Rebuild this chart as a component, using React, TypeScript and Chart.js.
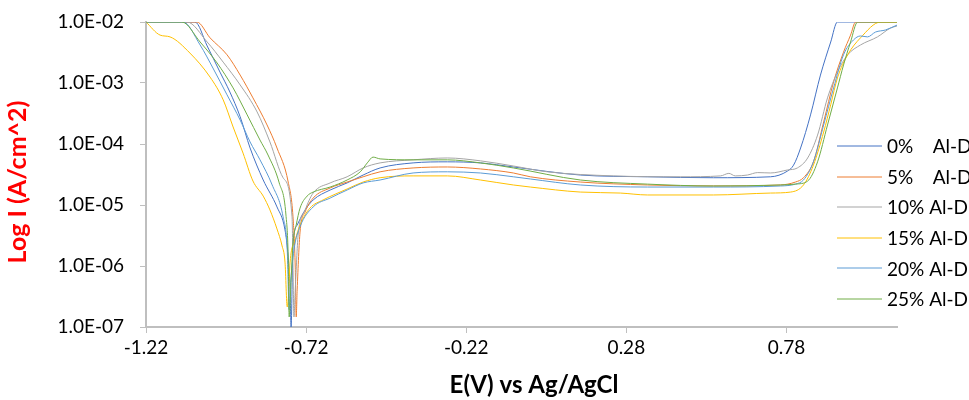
import React, { useEffect, useRef } from 'react';
import { Chart, registerables } from 'chart.js';

Chart.register(...registerables);

const seriesLabels = ['0%    Al-Dross', '5%    Al-Dross', '10% Al-Dross', '15% Al-Dross', '20% Al-Dross', '25% Al-Dross'];
const seriesColors = ['#4472C4', '#ED7D31', '#A5A5A5', '#FFC000', '#5B9BD5', '#70AD47'];

// 0% Al-D
const e0 = [-1.22, -1.067, -1.029, -0.989, -0.958, -0.926, -0.895, -0.854, -0.811, -0.786, -0.776, -0.77, -0.767, -0.761, -0.748, -0.723, -0.698, -0.645, -0.592, -0.542, -0.489, -0.386, -0.279, -0.176, -0.073, 0.136, 0.346, 0.552, 0.73, 0.783, 0.802, 0.824, 0.855, 0.886, 0.918, 0.939, 1.125];
const i0 = [1e-2, 1e-2, 4.05e-3, 1.51e-3, 7.1e-4, 2.8e-4, 8.6e-5, 2.57e-5, 9.3e-6, 3.9e-6, 1.4e-6, 4.05e-7, 1e-7, 2.2e-6, 4.7e-6, 8.3e-6, 1.21e-5, 1.76e-5, 2.3e-5, 3.1e-5, 4.05e-5, 4.9e-5, 5.1e-5, 4.9e-5, 4.2e-5, 3.1e-5, 2.9e-5, 2.8e-5, 2.9e-5, 3.6e-5, 4.5e-5, 8.6e-5, 3.0e-4, 1.35e-3, 4.7e-3, 1e-2, 1e-2];

// 5% Al-D
const e5 = [-1.22, -1.061, -1.02, -0.967, -0.926, -0.886, -0.842, -0.811, -0.776, -0.761, -0.754, -0.751, -0.748, -0.739, -0.723, -0.698, -0.645, -0.592, -0.542, -0.489, -0.386, -0.279, -0.176, -0.073, -0.02, 0.136, 0.346, 0.552, 0.761, 0.808, 0.833, 0.864, 0.896, 0.927, 0.958, 0.98, 0.996, 1.125];
const i5 = [1e-2, 1e-2, 5.5e-3, 2.9e-3, 1.35e-3, 5.7e-4, 2.05e-4, 8.6e-5, 2.38e-5, 6.4e-6, 9.6e-7, 1.46e-7, 4.05e-7, 3.6e-6, 7.7e-6, 1.3e-5, 1.9e-5, 2.38e-5, 2.9e-5, 3.5e-5, 4.05e-5, 4.2e-5, 3.9e-5, 3.35e-5, 2.9e-5, 2.38e-5, 2.13e-5, 2.05e-5, 2.13e-5, 2.38e-5, 2.8e-5, 5.1e-5, 2.3e-4, 1.04e-3, 3.2e-3, 6.1e-3, 1e-2, 1e-2];

// 10% Al-D
const e10 = [-1.22, -1.092, -1.029, -0.979, -0.926, -0.873, -0.833, -0.792, -0.764, -0.761, -0.758, -0.754, -0.745, -0.723, -0.698, -0.645, -0.592, -0.542, -0.489, -0.386, -0.279, -0.176, -0.073, 0.033, 0.239, 0.449, 0.574, 0.6, 0.62, 0.658, 0.69, 0.73, 0.783, 0.814, 0.846, 0.877, 0.908, 0.939, 0.971, 1.011, 1.064, 1.105, 1.125];
const i10 = [1e-2, 1e-2, 4.7e-3, 2.2e-3, 9.3e-4, 3.35e-4, 1.08e-4, 2.8e-5, 6.4e-6, 9.6e-7, 1.46e-7, 4.05e-7, 3.2e-6, 8.3e-6, 1.57e-5, 2.3e-5, 2.9e-5, 4.05e-5, 4.9e-5, 5.5e-5, 5.9e-5, 5.3e-5, 4.36e-5, 3.5e-5, 3.0e-5, 2.9e-5, 3.0e-5, 3.3e-5, 3.0e-5, 3.1e-5, 3.4e-5, 3.35e-5, 3.75e-5, 4.05e-5, 5.9e-5, 1.4e-4, 5.7e-4, 1.51e-3, 2.9e-3, 4.2e-3, 5.7e-3, 7.97e-3, 8.6e-3];

// 15% Al-D
const e15 = [-1.22, -1.176, -1.145, -1.083, -1.02, -0.979, -0.948, -0.917, -0.886, -0.854, -0.833, -0.811, -0.795, -0.786, -0.779, -0.776, -0.77, -0.754, -0.739, -0.708, -0.667, -0.592, -0.542, -0.489, -0.386, -0.279, -0.176, -0.073, -0.02, 0.136, 0.261, 0.346, 0.552, 0.73, 0.793, 0.833, 0.864, 0.896, 0.918, 0.939, 0.971, 1.011, 1.074, 1.125];
const i15 = [1e-2, 6.1e-3, 5.7e-3, 3.1e-3, 1.25e-3, 5.3e-4, 1.9e-4, 7.1e-5, 2.47e-5, 1.4e-5, 8.3e-6, 4.05e-6, 2.13e-6, 1.16e-6, 2.13e-7, 2.77e-7, 1.16e-6, 2.67e-6, 4.7e-6, 8.9e-6, 1.21e-5, 1.83e-5, 2.38e-5, 2.8e-5, 3.0e-5, 3.0e-5, 2.57e-5, 2.13e-5, 1.97e-5, 1.63e-5, 1.57e-5, 1.46e-5, 1.46e-5, 1.57e-5, 1.63e-5, 2.13e-5, 4.5e-5, 1.57e-4, 4.4e-4, 1.21e-3, 2.9e-3, 5.5e-3, 1e-2, 1e-2];

// 20% Al-D
const e20 = [-1.22, -1.104, -1.051, -1.011, -0.967, -0.926, -0.895, -0.864, -0.826, -0.792, -0.779, -0.773, -0.77, -0.758, -0.739, -0.698, -0.645, -0.592, -0.542, -0.489, -0.386, -0.279, -0.176, -0.073, -0.02, 0.136, 0.346, 0.552, 0.761, 0.808, 0.833, 0.864, 0.896, 0.927, 0.958, 0.989, 1.011, 1.033, 1.058, 1.089, 1.125];
const i20 = [1e-2, 1e-2, 4.2e-3, 1.76e-3, 6.4e-4, 2.47e-4, 1.08e-4, 5.5e-5, 2.13e-5, 6.4e-6, 1.83e-6, 1.9e-7, 4.05e-7, 1.83e-6, 4.4e-6, 9.3e-6, 1.3e-5, 1.76e-5, 2.3e-5, 2.57e-5, 3.35e-5, 3.5e-5, 3.35e-5, 2.9e-5, 2.67e-5, 2.13e-5, 1.97e-5, 1.97e-5, 2.05e-5, 2.2e-5, 2.57e-5, 5.1e-5, 2.05e-4, 8.3e-4, 2.9e-3, 5.07e-3, 5.9e-3, 5.7e-3, 6.85e-3, 7.4e-3, 8.9e-3];

// 25% Al-D
const e25 = [-1.22, -1.108, -1.051, -0.998, -0.948, -0.904, -0.864, -0.839, -0.804, -0.783, -0.776, -0.773, -0.767, -0.761, -0.751, -0.739, -0.717, -0.698, -0.645, -0.592, -0.551, -0.529, -0.511, -0.489, -0.386, -0.279, -0.176, -0.073, 0.136, 0.346, 0.552, 0.761, 0.808, 0.846, 0.877, 0.908, 0.939, 0.958, 0.98, 1.002, 1.125];
const i25 = [1e-2, 1e-2, 4.7e-3, 2.13e-3, 8.3e-4, 3.0e-4, 1.16e-4, 6.6e-5, 2.3e-5, 6.85e-6, 1.4e-6, 1.46e-7, 5.9e-7, 2.38e-6, 4.7e-6, 8.9e-6, 1.4e-5, 1.63e-5, 1.97e-5, 2.57e-5, 3.5e-5, 4.9e-5, 6.1e-5, 5.7e-5, 5.5e-5, 5.5e-5, 4.9e-5, 4.05e-5, 2.57e-5, 2.2e-5, 2.05e-5, 2.13e-5, 2.2e-5, 2.47e-5, 5.1e-5, 2.05e-4, 8.3e-4, 1.97e-3, 4.7e-3, 1e-2, 1e-2];

const potentials = [e0, e5, e10, e15, e20, e25];
const currents = [i0, i5, i10, i15, i20, i25];

const xTickValues = [-1.22, -0.72, -0.22, 0.28, 0.78];
const xTickLabels = ['-1.22', '-0.72', '-0.22', '0.28', '0.78'];
const yTickValues = [1e-7, 1e-6, 1e-5, 1e-4, 1e-3, 1e-2];
const yTickLabels = ['1.0E-07', '1.0E-06', '1.0E-05', '1.0E-04', '1.0E-03', '1.0E-02'];
const xTitle = 'E(V) vs Ag/AgCl';
const yTitle = 'Log I (A/cm^2)';

const FONT = 'Lato, "Open Sans", sans-serif';

const overlayPlugin = {
  id: 'overlay',
  afterDraw(chart: any) {
    const ctx = chart.ctx as CanvasRenderingContext2D;
    ctx.save();
    ctx.textAlign = 'center';
    ctx.textBaseline = 'middle';
    ctx.font = `bold 24px ${FONT}`;
    ctx.fillStyle = '#000000';
    ctx.fillText(xTitle, 534, 385);
    ctx.save();
    ctx.translate(18, 182);
    ctx.rotate(-Math.PI / 2);
    ctx.font = `bold 25px ${FONT}`;
    ctx.fillStyle = '#FF0000';
    ctx.fillText(yTitle, 0, 0);
    ctx.restore();
    ctx.font = `19px ${FONT}`;
    ctx.textAlign = 'left';
    chart.data.datasets.forEach((ds: any, i: number) => {
      const y = 146 + i * 30.6;
      ctx.strokeStyle = ds.borderColor;
      ctx.lineWidth = 1;
      ctx.beginPath();
      ctx.moveTo(837, Math.round(y));
      ctx.lineTo(882, Math.round(y));
      ctx.stroke();
      ctx.fillStyle = '#000000';
      ctx.fillText(ds.label, 887, y + 1);
    });
    ctx.restore();
  },
};

export default function App() {
  const ref = useRef<HTMLCanvasElement | null>(null);
  useEffect(() => {
    if (!ref.current) return;
    const n = seriesLabels.length;
    const datasets = seriesLabels.map((label, k) => ({
      label,
      data: potentials[k].map((e, j) => ({ x: e, y: currents[k][j] })),
      borderColor: seriesColors[k],
      backgroundColor: seriesColors[k],
      borderWidth: 1,
      pointRadius: 0,
      fill: false,
      cubicInterpolationMode: 'monotone' as const,
      order: n - 1 - k,
    }));
    const tickFont = { family: FONT, size: 19 };
    const chart = new Chart(ref.current, {
      type: 'line',
      data: { datasets },
      options: {
        animation: false,
        responsive: true,
        maintainAspectRatio: false,
        layout: { padding: { top: 22, right: 72, bottom: 0, left: 0 } },
        plugins: { legend: { display: false }, tooltip: { enabled: false }, title: { display: false } },
        scales: {
          x: {
            type: 'linear',
            min: -1.22,
            max: 1.125,
            afterBuildTicks: (s: any) => {
              s.ticks = xTickValues.map((v) => ({ value: v }));
            },
            afterFit: (s: any) => {
              s.height = 73;
              s.paddingLeft = 0;
              s.paddingRight = 0;
            },
            ticks: {
              callback: (_v: any, i: number) => xTickLabels[i],
              font: tickFont,
              color: '#000000',
              padding: 3,
              maxRotation: 0,
              autoSkip: false,
            },
            grid: { display: true, drawOnChartArea: false, drawTicks: true, tickLength: 6, color: '#BFBFBF', lineWidth: 1 },
            border: { display: true, color: '#BFBFBF', width: 2 },
          },
          y: {
            type: 'logarithmic',
            min: 1e-7,
            max: 1e-2,
            afterBuildTicks: (s: any) => {
              s.ticks = yTickValues.map((v) => ({ value: v }));
            },
            afterFit: (s: any) => {
              s.width = 146;
              s.paddingTop = 0;
              s.paddingBottom = 0;
            },
            ticks: {
              callback: (_v: any, i: number) => yTickLabels[i],
              font: tickFont,
              color: '#000000',
              padding: 16,
              autoSkip: false,
            },
            grid: { display: true, drawOnChartArea: false, drawTicks: true, tickLength: 6, color: '#BFBFBF', lineWidth: 1 },
            border: { display: true, color: '#BFBFBF', width: 2 },
          },
        },
      },
      plugins: [overlayPlugin],
    });
    return () => chart.destroy();
  }, []);
  return (
    <div style={{ position: 'fixed', left: 0, top: 0, width: 969, height: 400, background: '#ffffff' }}>
      <canvas ref={ref} />
    </div>
  );
}
